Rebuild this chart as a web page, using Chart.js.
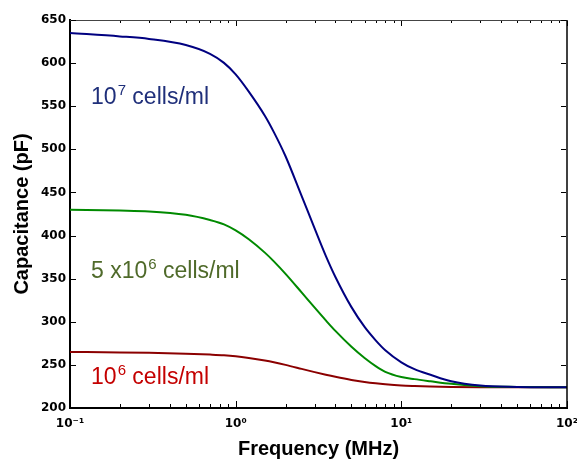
<!DOCTYPE html>
<html>
<head>
<meta charset="utf-8">
<script src="https://cdn.jsdelivr.net/npm/chart.js@4/dist/chart.umd.min.js"></script>
<style>
html, body { margin: 0; padding: 0; background: #fff; }
#wrap { width: 577px; height: 462px; }
</style>
</head>
<body>
<div id="wrap"><canvas id="cap"></canvas></div>
<script>
// frequency in MHz
var freq = [0.1, 0.2, 0.3, 0.5, 0.7, 0.85, 1, 1.2, 1.5, 1.7, 2, 2.5, 3, 3.5, 4, 5, 6, 7, 8, 10, 12, 15, 20, 30, 50, 100];
// capacitance in pF
var cap1e7 = [635, 631, 628, 621, 610.8, 600.3, 587, 567, 539, 520, 492, 446, 408, 376.5, 352, 317, 294, 278.5, 267, 253, 245, 238.5, 231, 226, 224.5, 224];
var cap5e6 = [430, 429, 428, 424, 418, 413, 406, 395.7, 380.2, 370.1, 355.6, 334.1, 316.3, 301.6, 289.4, 271, 258, 248.6, 242, 236, 233.5, 231, 228, 225.3, 224.4, 224];
var cap1e6 = [265, 264.5, 264, 263, 262, 261.2, 260, 258, 255, 253, 250, 245.4, 241.6, 238.6, 236.2, 232.6, 230.2, 228.6, 227.5, 226.1, 225.5, 225, 224.5, 224.1, 224, 224];
var yTicks = [200, 250, 300, 350, 400, 450, 500, 550, 600, 650];
var xLabels = {"0.1": "10\u207B\u00B9", "1": "10\u2070", "10": "10\u00B9", "100": "10\u00B2"};

// curve labels: [text parts (base, superscript, rest), colour, x value, y value at baseline]
var curveLabels = [
  [["10", "7", " cells/ml"], "#1f2f7a", 0.134, 552],
  [["5 x10", "6", " cells/ml"], "#4f6a2a", 0.134, 351],
  [["10", "6", " cells/ml"], "#c40000", 0.134, 228]
];

function pts(ys) {
  return freq.map(function (f, i) { return {x: f, y: ys[i]}; });
}

var frame = {
  id: 'frame',
  afterDraw: function (chart) {
    var ctx = chart.ctx, a = chart.chartArea;
    var xs = chart.scales.x, ys = chart.scales.y;
    ctx.save();
    // top and right border
    ctx.strokeStyle = '#444';
    ctx.lineWidth = 1;
    ctx.beginPath();
    ctx.moveTo(a.left, a.top + 0.5); ctx.lineTo(a.right, a.top + 0.5);
    ctx.stroke();
    ctx.strokeStyle = '#000';
    ctx.lineWidth = 1.5;
    ctx.beginPath();
    ctx.moveTo(a.right, a.top); ctx.lineTo(a.right, a.bottom);
    ctx.stroke();
    // inward ticks
    ctx.lineWidth = 1;
    ctx.strokeStyle = '#000';
    var xv = [];
    for (var d = 0.1; d < 100; d *= 10) {
      for (var m = 1; m < 10; m++) xv.push({v: d * m, major: m === 1});
    }
    xv.push({v: 100, major: true});
    xv.forEach(function (t) {
      var px = Math.round(xs.getPixelForValue(t.v)) + 0.5;
      var len = t.major ? 7 : 4;
      ctx.beginPath();
      ctx.moveTo(px, a.bottom - 1); ctx.lineTo(px, a.bottom - len);
      ctx.moveTo(px, a.top + 1); ctx.lineTo(px, a.top + len - 1);
      ctx.stroke();
    });
    yTicks.forEach(function (v) {
      var py = Math.round(ys.getPixelForValue(v)) + 0.5;
      ctx.beginPath();
      ctx.moveTo(a.left + 1, py); ctx.lineTo(a.left + 6, py);
      ctx.moveTo(a.right - 1, py); ctx.lineTo(a.right - 6, py);
      ctx.stroke();
    });
    // curve labels
    ctx.textBaseline = 'alphabetic';
    ctx.textAlign = 'left';
    curveLabels.forEach(function (l) {
      var x = xs.getPixelForValue(l[2]), y = ys.getPixelForValue(l[3]);
      ctx.fillStyle = l[1];
      ctx.font = '23px "Liberation Sans", Arial, sans-serif';
      ctx.fillText(l[0][0], x, y);
      x += ctx.measureText(l[0][0]).width + 1;
      ctx.font = '15px "Liberation Sans", Arial, sans-serif';
      ctx.fillText(l[0][1], x, y - 9);
      x += ctx.measureText(l[0][1]).width;
      ctx.font = '23px "Liberation Sans", Arial, sans-serif';
      ctx.fillText(l[0][2], x, y);
    });
    ctx.restore();
  }
};

new Chart(document.getElementById('cap'), {
  type: 'line',
  data: {
    datasets: [
      {label: '1e7', data: pts(cap1e7), borderColor: '#000080', borderWidth: 2},
      {label: '5e6', data: pts(cap5e6), borderColor: '#008a00', borderWidth: 2},
      {label: '1e6', data: pts(cap1e6), borderColor: '#8b0000', borderWidth: 2}
    ]
  },
  options: {
    responsive: true,
    maintainAspectRatio: false,
    animation: false,
    events: [],
    layout: {padding: {top: 20, right: 10, left: 0, bottom: 0}},
    elements: {
      point: {radius: 0},
      line: {cubicInterpolationMode: 'monotone', fill: false}
    },
    plugins: {legend: {display: false}, tooltip: {enabled: false}},
    scales: {
      x: {
        type: 'logarithmic',
        min: 0.1,
        max: 100,
        grid: {display: false, drawTicks: false},
        border: {display: true, color: '#000', width: 2},
        ticks: {
          autoSkip: false,
          maxRotation: 0,
          padding: 9,
          color: '#000',
          font: {family: '"DejaVu Sans"', size: 12, weight: 'bold'},
          callback: function (v) { return xLabels[String(v)] || ''; }
        },
        title: {
          display: true,
          text: 'Frequency (MHz)',
          color: '#000',
          padding: {top: 0, bottom: 1},
          font: {family: '"Liberation Sans", Arial', size: 20, weight: 'bold'}
        },
        afterFit: function (s) { s.height = 54; s.paddingLeft = 0; s.paddingRight = 0; }
      },
      y: {
        min: 200,
        max: 650,
        grid: {display: false, drawTicks: false},
        border: {display: true, color: '#000', width: 2},
        afterBuildTicks: function (s) { s.ticks = yTicks.map(function (v) { return {value: v}; }); },
        ticks: {
          padding: 4,
          color: '#000',
          font: {family: '"DejaVu Sans"', size: 12, weight: 'bold'}
        },
        title: {
          display: true,
          text: 'Capacitance (pF)',
          color: '#000',
          padding: {top: 10, bottom: 0},
          font: {family: '"Liberation Sans", Arial', size: 20, weight: 'bold'}
        },
        afterFit: function (s) { s.width = 70; }
      }
    }
  },
  plugins: [frame]
});
</script>
</body>
</html>
